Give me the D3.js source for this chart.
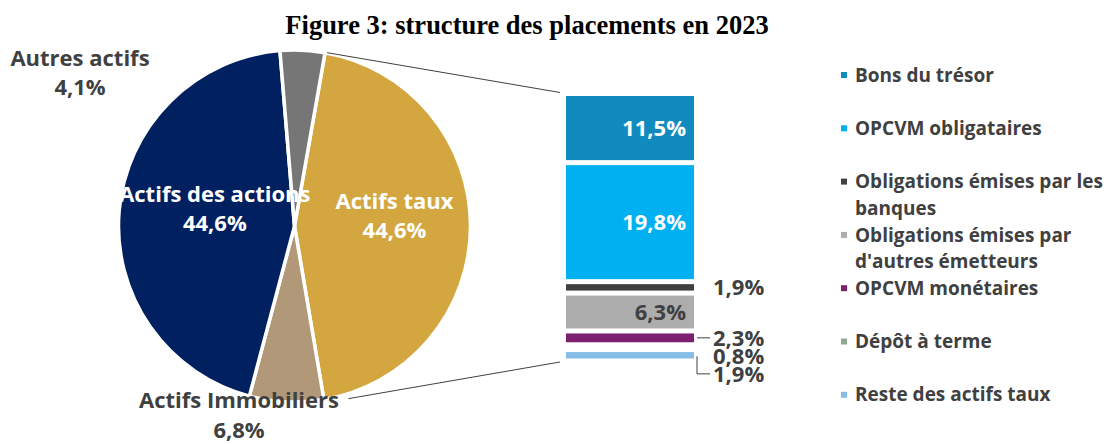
<!DOCTYPE html>
<html><head><meta charset="utf-8">
<script src="https://cdn.jsdelivr.net/npm/d3@7"></script>
<style>body{margin:0;background:#fff}svg{display:block}</style>
</head><body>
<svg id="chart" width="1118" height="444"></svg>
<script>
const titleText = "Figure 3: structure des placements en 2023";
const pieCategories = ["Actifs taux", "Actifs Immobiliers", "Actifs des actions", "Autres actifs"];
const pieValues = [44.6, 6.8, 44.6, 4.1];
const pieLabels = ["44,6%", "6,8%", "44,6%", "4,1%"];
const barCategories = ["Bons du trésor", "OPCVM obligataires", "Obligations émises par les banques",
  "Obligations émises par d'autres émetteurs", "OPCVM monétaires", "Dépôt à terme", "Reste des actifs taux"];
const barValues = [11.5, 19.8, 1.9, 6.3, 2.3, 0.8, 1.9];
const barLabels = ["11,5%", "19,8%", "1,9%", "6,3%", "2,3%", "0,8%", "1,9%"];
const legendLines = [["Bons du trésor"], ["OPCVM obligataires"], ["Obligations émises par les", "banques"],
  ["Obligations émises par", "d'autres émetteurs"], ["OPCVM monétaires"], ["Dépôt à terme"], ["Reste des actifs taux"]];

const pieColors = ["#D4A640", "#B09878", "#002060", "#767676"];
const barColors = ["#118BBE", "#00B0F0", "#404040", "#ADADAD", "#7F1F6F", "#8FA88F", "#86BDE6"];
const FONT = "'Open Sans', 'Noto Sans', sans-serif";
const TXT = "#404040";
const LBL = 22;

const svg = d3.select("#chart");

svg.append("text").attr("x", 527).attr("y", 34).attr("text-anchor", "middle")
  .attr("font-family", "'Liberation Serif', 'Times New Roman', serif").attr("font-weight", "bold")
  .attr("font-size", 26.5).attr("fill", "#000").text(titleText);

// Pie
const cx = 294.5, cy = 226, R = 176;
const pie = d3.pie().sort(null).startAngle(10 * Math.PI / 180).endAngle(10 * Math.PI / 180 + 2 * Math.PI);
const arcs = pie(pieValues);
const arc = d3.arc().innerRadius(0).outerRadius(R);
const g = svg.append("g").attr("transform", `translate(${cx},${cy})`);
g.selectAll("path").data(arcs).join("path")
  .attr("d", arc).attr("fill", (d, i) => pieColors[i])
  .attr("stroke", "#fff").attr("stroke-width", 3.5).attr("stroke-linejoin", "round");

// Pie labels
const pieLabelLayout = [
  { r: 100, inside: true, gap: 29 },
  { pos: [239 - cx, 400 - cy], inside: false, gap: 30 },
  { r: 80, inside: true, gap: 29 },
  { pos: [80 - cx, 58 - cy], inside: false, gap: 29 }
];
arcs.forEach((a, i) => {
  const L = pieLabelLayout[i];
  let x, y;
  if (L.r) {
    const c = d3.arc().innerRadius(L.r).outerRadius(L.r).centroid(a);
    x = c[0]; y = c[1] - 25;
  } else { x = L.pos[0]; y = L.pos[1]; }
  const t = g.append("text").attr("text-anchor", "middle").attr("font-family", FONT)
    .attr("font-weight", "bold").attr("font-size", LBL).attr("fill", L.inside ? "#fff" : TXT);
  t.append("tspan").attr("x", x).attr("y", y).attr("dy", "0.35em").text(pieCategories[i]);
  t.append("tspan").attr("x", x).attr("y", y + L.gap).attr("dy", "0.35em").text(pieLabels[i]);
});

// Stacked bar
const barX = 566, barW = 128;
const total = d3.sum(barValues);
const y = d3.scaleLinear().domain([0, total]).range([93.5, 361]);
let cum = 0;
const segs = barValues.map((v, i) => { const s = { i, v, y0: y(cum), y1: y(cum + v) }; cum += v; return s; });
svg.append("g").selectAll("rect").data(segs).join("rect")
  .attr("x", barX).attr("width", barW)
  .attr("y", d => d.y0 + 2.5).attr("height", d => Math.max(0, d.y1 - d.y0 - 5))
  .attr("fill", d => barColors[d.i]);

// Connector lines
const taux = arcs[0];
const p1 = [cx + R * Math.sin(taux.startAngle), cy - R * Math.cos(taux.startAngle)];
const a2 = taux.endAngle - 0.14;
const p2 = [cx + (R + 2) * Math.sin(a2), cy - (R + 2) * Math.cos(a2)];
svg.append("line").attr("x1", p1[0] + 2).attr("y1", p1[1]).attr("x2", barX - 6).attr("y2", y(0) - 1)
  .attr("stroke", "#404040").attr("stroke-width", 1);
svg.append("line").attr("x1", p2[0]).attr("y1", p2[1] + 3).attr("x2", barX - 6).attr("y2", y(total) + 1)
  .attr("stroke", "#404040").attr("stroke-width", 1);

// Bar labels
let prevY = -Infinity;
const leaders = [false, false, false, false, true, false, true];
segs.forEach(s => {
  const mid = (s.y0 + s.y1) / 2;
  if (s.v >= 3) {
    svg.append("text").attr("x", barX + barW - 8).attr("y", mid).attr("dy", "0.35em")
      .attr("text-anchor", "end").attr("font-family", FONT).attr("font-weight", "bold")
      .attr("font-size", LBL).attr("fill", s.i === 3 ? TXT : "#fff").text(barLabels[s.i]);
  } else {
    const ly = Math.max(mid, prevY + 18);
    prevY = ly;
    svg.append("text").attr("x", barX + barW + 19).attr("y", ly).attr("dy", "0.35em")
      .attr("font-family", FONT).attr("font-weight", "bold")
      .attr("font-size", LBL).attr("fill", TXT).text(barLabels[s.i]);
    if (leaders[s.i]) {
      const x0 = barX + barW + 3, x1 = barX + barW + 16;
      const pts = Math.abs(ly - mid) < 2 ? [[x0, mid], [x1, mid]] : [[x0, mid + 1], [x0, ly], [x1, ly]];
      svg.append("path").attr("d", d3.line()(pts)).attr("fill", "none")
        .attr("stroke", "#404040").attr("stroke-width", 1);
    }
  }
});

// Legend
const lg = svg.append("g");
legendLines.forEach((lines, i) => {
  const ly = 75 + i * 53.3;
  lg.append("rect").attr("x", 841).attr("y", ly - 3).attr("width", 6).attr("height", 6).attr("fill", barColors[i]);
  lines.forEach((ln, j) => {
    lg.append("text").attr("x", 855).attr("y", ly + j * 26.7).attr("dy", "0.35em")
      .attr("font-family", FONT).attr("font-weight", "bold").attr("font-size", 19)
      .attr("fill", TXT).text(ln);
  });
});
</script>
</body></html>
